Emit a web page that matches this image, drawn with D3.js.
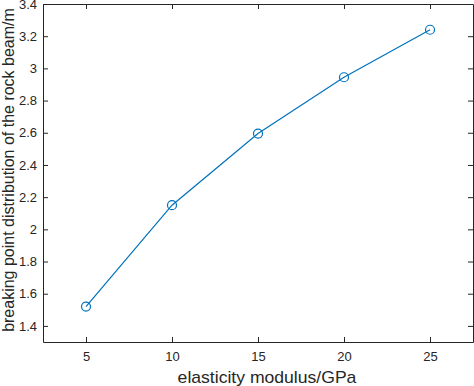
<!DOCTYPE html>
<html>
<head>
<meta charset="utf-8">
<script src="https://cdn.jsdelivr.net/npm/d3@7"></script>
<style>
  body { margin: 0; background: #fff; }
  text { font-family: "Liberation Sans", Arial, sans-serif; }
</style>
</head>
<body>
<script>
const width = 474
const height = 386
const margins = { top: 4, right: 1, bottom: 44, left: 43 }

const modulus = [5, 10, 15, 20, 25]
const breakPoint = [1.52, 2.15, 2.595, 2.945, 3.24]
const xTicks = [5, 10, 15, 20, 25]
const yTicks = [1.4, 1.6, 1.8, 2, 2.2, 2.4, 2.6, 2.8, 3, 3.2, 3.4]

const svg = d3.select('body').append('svg')
  .attr('width', width)
  .attr('height', height)

const x = d3.scaleLinear()
  .domain([2.5, 27.5])
  .range([margins.left, width - margins.right])
const y = d3.scaleLinear()
  .domain([1.3, 3.4])
  .range([height - margins.bottom, margins.top])

const axisColor = '#262626'
const tickLen = 5

// bottom + top axes, ticks pointing inside (matlab box)
svg.append('g')
  .attr('transform', `translate(0,${y(1.3)})`)
  .call(d3.axisBottom(x).tickValues(xTicks).tickSizeInner(-tickLen).tickSizeOuter(0).tickPadding(10))
svg.append('g')
  .attr('transform', `translate(0,${y(3.4)})`)
  .call(d3.axisTop(x).tickValues(xTicks).tickSizeInner(-tickLen).tickSizeOuter(0).tickFormat(''))

// left + right axes
svg.append('g')
  .attr('transform', `translate(${x(2.5)},0)`)
  .call(d3.axisLeft(y).tickValues(yTicks).tickSizeInner(-tickLen).tickSizeOuter(0).tickPadding(6).tickFormat(d3.format('~g')))
svg.append('g')
  .attr('transform', `translate(${x(27.5)},0)`)
  .call(d3.axisRight(y).tickValues(yTicks).tickSizeInner(-tickLen).tickSizeOuter(0).tickFormat(''))

svg.selectAll('.domain, .tick line')
  .attr('stroke', axisColor)
  .attr('stroke-width', 1)
svg.selectAll('.tick text')
  .attr('fill', axisColor)
  .style('font-size', '13px')

const line = d3.line()
  .x((d, i) => x(modulus[i]))
  .y(d => y(d))

svg.append('path')
  .datum(breakPoint)
  .attr('d', line)
  .attr('fill', 'none')
  .attr('stroke', '#0072BD')
  .attr('stroke-width', 1.2)

svg.selectAll('circle.pt')
  .data(breakPoint)
  .enter()
  .append('circle')
  .attr('class', 'pt')
  .attr('cx', (d, i) => x(modulus[i]))
  .attr('cy', d => y(d))
  .attr('r', 4.5)
  .attr('fill', 'none')
  .attr('stroke', '#0072BD')
  .attr('stroke-width', 1.2)

svg.append('text')
  .attr('transform', `translate(${(x(2.5) + x(27.5)) / 2 + 9},383) scale(1.1,1)`)
  .attr('text-anchor', 'middle')
  .attr('fill', axisColor)
  .style('font-size', '16px')
  .text('elasticity modulus/GPa')

svg.append('text')
  .attr('transform', `translate(14,170) rotate(-90)`)
  .attr('text-anchor', 'middle')
  .attr('fill', axisColor)
  .style('font-size', '16px')
  .text('breaking point distribution of the rock beam/m')
</script>
</body>
</html>
